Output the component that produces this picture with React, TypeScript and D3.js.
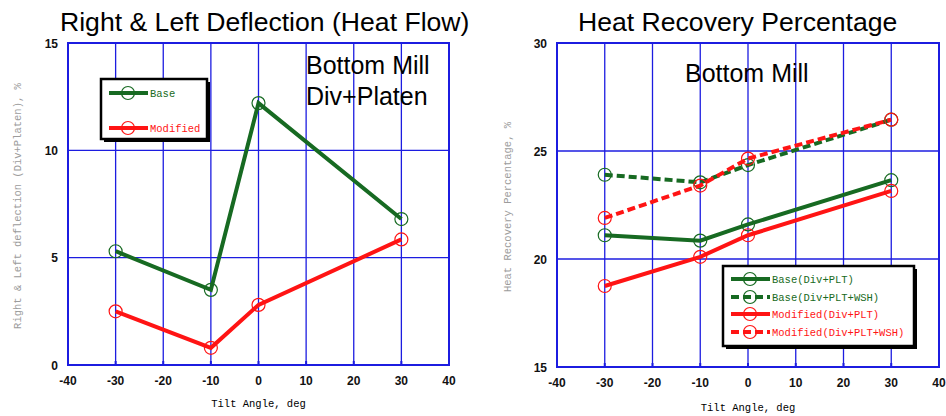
import React from 'react';
import * as d3 from 'd3';

// tilt angles shared by both panels
const tiltAngles = [-30, -10, 0, 30];
const xTicks = [-40, -30, -20, -10, 0, 10, 20, 30, 40];

// left panel: right & left deflection
const deflectionBase = [5.3, 3.5, 12.2, 6.8];
const deflectionModified = [2.5, 0.8, 2.8, 5.85];
const deflectionTicks = [0, 5, 10, 15];

// right panel: heat recovery percentage
const recoveryBasePlt = [21.1, 20.85, 21.6, 23.65];
const recoveryBaseWsh = [23.9, 23.55, 24.35, 26.45];
const recoveryModPlt = [18.75, 20.1, 21.1, 23.15];
const recoveryModWsh = [21.9, 23.4, 24.65, 26.45];
const recoveryTicks = [15, 20, 25, 30];

const GREEN = '#176a22';
const RED = '#ff1414';
const GRID = '#1c1ce0';
const MONO = '"Liberation Mono", "DejaVu Sans Mono", monospace';
const SANS = '"Liberation Sans", Arial, sans-serif';

type Series = { name: string; values: number[]; color: string; dashed: boolean };

type PanelProps = {
  title: string;
  titleX: number;
  notes: { text: string; x: number; y: number }[];
  yLabel: string;
  yLabelX: number;
  xRange: [number, number];
  yRange: [number, number];
  yDomain: [number, number];
  yTicks: number[];
  series: Series[];
  legend: { x: number; y: number; w: number; h: number; rows: number[] };
  xLabelY: number;
};

const Panel = (p: PanelProps) => {
  const x = d3.scaleLinear().domain([-40, 40]).range(p.xRange);
  const y = d3.scaleLinear().domain(p.yDomain).range(p.yRange);
  const [left, right] = p.xRange;
  const [bottom, top] = p.yRange;
  const line = d3.line<number>()
    .x((_, i) => x(tiltAngles[i]))
    .y(d => y(d));
  const lg = p.legend;

  return (
    <g>
      <text x={p.titleX} y={31} fontFamily={SANS} fontSize={26.6} fill="#000">{p.title}</text>

      {/* grid */}
      {xTicks.slice(1, -1).map(t => (
        <line key={'gx' + t} x1={x(t)} x2={x(t)} y1={top} y2={bottom} stroke={GRID} strokeWidth={1.3} />
      ))}
      {p.yTicks.slice(1, -1).map(t => (
        <line key={'gy' + t} x1={left} x2={right} y1={y(t)} y2={y(t)} stroke={GRID} strokeWidth={1.3} />
      ))}
      <rect x={left} y={top} width={right - left} height={bottom - top} fill="none" stroke={GRID} strokeWidth={2} />
      {xTicks.map(t => (
        <line key={'tk' + t} x1={x(t)} x2={x(t)} y1={bottom} y2={bottom - 4} stroke={GRID} strokeWidth={2} />
      ))}

      {/* tick labels */}
      {p.yTicks.map(t => (
        <text key={'yl' + t} x={left - 10} y={y(t) + 4.5} textAnchor="end" fontFamily={SANS} fontSize={12}
          fontWeight="bold" fill="#111">{t}</text>
      ))}
      {xTicks.map(t => (
        <text key={'xl' + t} x={x(t)} y={bottom + 20} textAnchor="middle" fontFamily={SANS} fontSize={12}
          fontWeight="bold" fill="#111">{t}</text>
      ))}

      <text x={(left + right) / 2} y={p.xLabelY} textAnchor="middle" fontFamily={MONO} fontSize={10.5} fill="#000">Tilt Angle, deg</text>
      <text transform={`translate(${p.yLabelX},${(top + bottom) / 2 + 2}) rotate(-90)`} textAnchor="middle"
        fontFamily={MONO} fontSize={10.5} fill="#9c9c9c">{p.yLabel}</text>

      {p.notes.map(n => (
        <text key={n.text} x={n.x} y={n.y} fontFamily={SANS} fontSize={25} fill="#000">{n.text}</text>
      ))}

      {/* series */}
      {p.series.map(s => (
        <g key={s.name}>
          <path d={line(s.values) || ''} fill="none" stroke={s.color} strokeWidth={4}
            strokeDasharray={s.dashed ? '8 4' : undefined} />
          {s.values.map((v, i) => (
            <circle key={i} cx={x(tiltAngles[i])} cy={y(v)} r={6.5} fill="none" stroke={s.color} strokeWidth={1.2} />
          ))}
        </g>
      ))}

      {/* legend */}
      <rect x={lg.x + 3} y={lg.y + 3} width={lg.w} height={lg.h} fill="#000" />
      <rect x={lg.x} y={lg.y} width={lg.w} height={lg.h} fill="#fff" stroke="#000" strokeWidth={2.5} />
      {p.series.map((s, i) => (
        <g key={'lg' + s.name}>
          <line x1={lg.x + 8} x2={lg.x + 47} y1={lg.rows[i]} y2={lg.rows[i]} stroke={s.color} strokeWidth={4}
            strokeDasharray={s.dashed ? '8 4' : undefined} />
          <circle cx={lg.x + 27} cy={lg.rows[i]} r={6.5} fill="none" stroke={s.color} strokeWidth={1.2} />
          <text x={lg.x + 49} y={lg.rows[i] + 4} fontFamily={MONO} fontSize={10.5} fill={s.color}>{s.name}</text>
        </g>
      ))}
    </g>
  );
};

export default function App() {
  return (
    <svg width={946} height={416} style={{ position: 'absolute', left: 0, top: 0, background: '#fff' }}>
      <Panel
        title="Right & Left Deflection (Heat Flow)"
        titleX={60}
        notes={[{ text: 'Bottom Mill', x: 306, y: 74 }, { text: 'Div+Platen', x: 306, y: 105 }]}
        yLabel="Right & Left deflection (Div+Platen), %"
        yLabelX={21}
        xRange={[68, 449]}
        yRange={[365, 43]}
        yDomain={[0, 15]}
        yTicks={deflectionTicks}
        series={[
          { name: 'Base', values: deflectionBase, color: GREEN, dashed: false },
          { name: 'Modified', values: deflectionModified, color: RED, dashed: false },
        ]}
        legend={{ x: 101, y: 79, w: 106, h: 60, rows: [93, 128] }}
        xLabelY={407}
      />
      <Panel
        title="Heat Recovery Percentage"
        titleX={578}
        notes={[{ text: 'Bottom Mill', x: 685, y: 82 }]}
        yLabel="Heat Recovery Percentage, %"
        yLabelX={511}
        xRange={[557, 939]}
        yRange={[367, 43]}
        yDomain={[15, 30]}
        yTicks={recoveryTicks}
        series={[
          { name: 'Base(Div+PLT)', values: recoveryBasePlt, color: GREEN, dashed: false },
          { name: 'Base(Div+PLT+WSH)', values: recoveryBaseWsh, color: GREEN, dashed: true },
          { name: 'Modified(Div+PLT)', values: recoveryModPlt, color: RED, dashed: false },
          { name: 'Modified(Div+PLT+WSH)', values: recoveryModWsh, color: RED, dashed: true },
        ]}
        legend={{ x: 723, y: 266, w: 191, h: 80, rows: [279, 297, 314, 332] }}
        xLabelY={411}
      />
    </svg>
  );
}
